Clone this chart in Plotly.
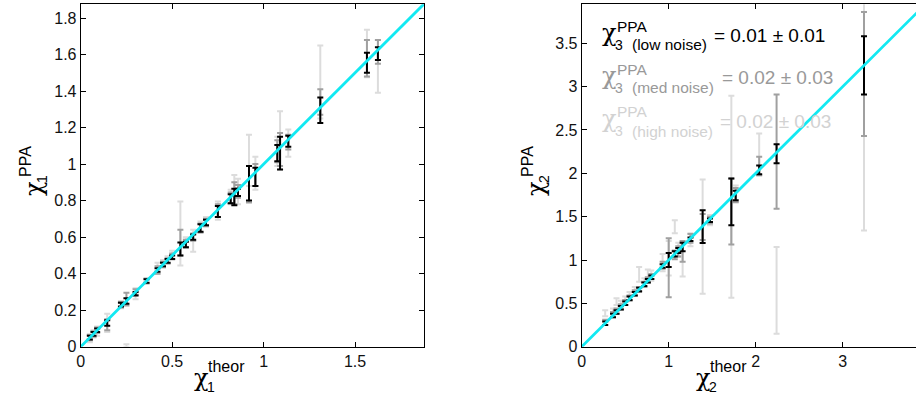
import plotly.graph_objects as go

# ---------------- data ----------------
# Left panel: chi_1 (theoretical) vs chi_1 (PPA estimate)
chi1_theor = [0.05, 0.07, 0.09, 0.145, 0.22, 0.25, 0.30, 0.36, 0.42, 0.45,
              0.475, 0.50, 0.545, 0.575, 0.615, 0.655, 0.685, 0.75, 0.82, 0.84,
              0.86, 0.92, 0.955, 1.075, 1.09, 1.135, 1.31, 1.565, 1.625]
chi1_low = [0.05, 0.07, 0.09, 0.13, 0.23, 0.25, 0.29, 0.36, 0.42, 0.45,
            0.47, 0.49, 0.535, 0.56, 0.60, 0.65, 0.68, 0.74, 0.81, 0.82,
            0.845, 0.895, 0.93, 1.06, 1.06, 1.125, 1.295, 1.555, 1.605]
chi1_low_err = [0.01, 0.01, 0.01, 0.015, 0.01, 0.015, 0.01, 0.01, 0.01, 0.01,
                0.01, 0.01, 0.035, 0.015, 0.015, 0.02, 0.015, 0.03, 0.025, 0.045,
                0.02, 0.095, 0.05, 0.045, 0.09, 0.03, 0.07, 0.055, 0.035]
chi1_med = [0.05, 0.07, 0.09, 0.12, 0.23, 0.26, 0.30, 0.36, 0.42, 0.45,
            0.47, 0.495, 0.57, 0.565, 0.60, 0.65, 0.68, 0.745, 0.815, 0.84,
            0.85, 0.89, 0.94, 1.07, 1.08, 1.12, 1.34, 1.58, 1.615]
chi1_med_err = [0.015, 0.015, 0.015, 0.03, 0.015, 0.035, 0.015, 0.012, 0.02, 0.015,
                0.015, 0.015, 0.07, 0.02, 0.02, 0.025, 0.02, 0.035, 0.03, 0.06,
                0.035, 0.10, 0.06, 0.06, 0.09, 0.04, 0.07, 0.10, 0.065]
chi1_high = [0.045, 0.07, 0.085, 0.13, 0.23, 0.005, 0.29, 0.36, 0.43, 0.455,
             0.475, 0.50, 0.62, 0.57, 0.58, 0.655, 0.685, 0.745, 0.82, 0.86,
             0.85, 1.02, 0.95, 1.07, 1.13, 1.115, 1.45, 1.605, 1.535]
chi1_high_err = [0.02, 0.02, 0.025, 0.05, 0.02, 0.008, 0.03, 0.015, 0.03, 0.02,
                 0.02, 0.025, 0.175, 0.03, 0.06, 0.03, 0.025, 0.05, 0.04, 0.08,
                 0.07, 0.14, 0.09, 0.08, 0.16, 0.075, 0.20, 0.13, 0.145]

# Right panel: chi_2 (theoretical) vs chi_2 (PPA estimate)
chi2_theor = [0.27, 0.36, 0.40, 0.45, 0.50, 0.55, 0.61, 0.66, 0.72, 0.76,
              0.80, 0.93, 1.00, 1.07, 1.11, 1.16, 1.25, 1.39, 1.475, 1.72,
              1.77, 2.04, 2.24, 3.245]
chi2_low = [0.27, 0.36, 0.40, 0.45, 0.50, 0.56, 0.61, 0.66, 0.72, 0.76,
            0.80, 0.93, 1.00, 1.07, 1.11, 1.15, 1.24, 1.385, 1.46, 1.67,
            1.745, 2.04, 2.225, 3.245]
chi2_low_err = [0.02, 0.02, 0.02, 0.02, 0.02, 0.02, 0.02, 0.02, 0.02, 0.02,
                0.02, 0.02, 0.08, 0.03, 0.03, 0.05, 0.02, 0.19, 0.02, 0.27,
                0.055, 0.05, 0.11, 0.335]
chi2_med = [0.28, 0.37, 0.41, 0.46, 0.51, 0.56, 0.62, 0.66, 0.72, 0.77,
            0.81, 0.94, 0.91, 1.06, 1.10, 1.10, 1.25, 1.38, 1.46, 1.56,
            1.75, 2.085, 2.25, 3.145]
chi2_med_err = [0.03, 0.03, 0.03, 0.03, 0.03, 0.03, 0.03, 0.03, 0.03, 0.03,
                0.03, 0.04, 0.34, 0.05, 0.06, 0.12, 0.05, 0.15, 0.04, 0.38,
                0.08, 0.105, 0.66, 0.715]
chi2_high = [0.385, 0.40, 0.52, 0.49, 0.53, 0.58, 0.64, 0.835, 0.74, 0.83,
             0.82, 0.97, 1.02, 1.385, 1.12, 1.00, 1.235, 1.27, 1.46, 1.73,
             1.76, 2.215, 0.65, 2.82]
chi2_high_err = [0.035, 0.04, 0.04, 0.04, 0.05, 0.05, 0.05, 0.085, 0.05, 0.06,
                 0.06, 0.10, 0.20, 0.075, 0.08, 0.19, 0.075, 0.66, 0.06, 1.165,
                 0.10, 0.245, 0.50, 1.48]

# identity reference lines (y = x)
identity1 = [0, 1.9]
identity2 = [0, 4.0]

# tick values
xticks1 = [0, 0.5, 1, 1.5]
yticks1 = [0, 0.2, 0.4, 0.6, 0.8, 1, 1.2, 1.4, 1.6, 1.8]
xticks2 = [0, 1, 2, 3]
yticks2 = [0, 0.5, 1, 1.5, 2, 2.5, 3, 3.5]

# annotation texts
noise_labels = ["(low noise)", "(med noise)", "(high noise)"]
chi3_values = ["= 0.01 ± 0.01", "= 0.02 ± 0.03", "= 0.02 ± 0.03"]

# ---------------- style ----------------
W, H = 916, 395
FONT = "Liberation Sans, Arial, Helvetica, sans-serif"
GREEK = "DejaVu Serif, Liberation Serif, serif"
BLACK = "#000000"
MED_BAR = "#a0a0a0"
LIGHT_BAR = "#dcdcdc"
TEXT_COLS = ["#000000", "#999999", "#d2d2d2"]
CYAN = "#12e9f2"


def px(x):
    return x / W


def py(y):
    return 1 - y / H


fig = go.Figure()


def add_err(xs, ys, es, color, xa, ya, thick=2.0):
    fig.add_trace(go.Scatter(
        x=xs, y=ys, mode="markers",
        marker=dict(size=1, color="rgba(0,0,0,0)"),
        error_y=dict(type="data", array=es, visible=True, color=color,
                     thickness=thick, width=3),
        xaxis=xa, yaxis=ya, showlegend=False, hoverinfo="skip"))


add_err(chi1_theor, chi1_high, chi1_high_err, LIGHT_BAR, "x", "y")
add_err(chi1_theor, chi1_med, chi1_med_err, MED_BAR, "x", "y")
add_err(chi1_theor, chi1_low, chi1_low_err, BLACK, "x", "y")
fig.add_trace(go.Scatter(x=identity1, y=identity1, mode="lines",
                         line=dict(color=CYAN, width=2.8), xaxis="x", yaxis="y",
                         showlegend=False, hoverinfo="skip"))

add_err(chi2_theor, chi2_high, chi2_high_err, LIGHT_BAR, "x2", "y2")
add_err(chi2_theor, chi2_med, chi2_med_err, MED_BAR, "x2", "y2")
add_err(chi2_theor, chi2_low, chi2_low_err, BLACK, "x2", "y2")
fig.add_trace(go.Scatter(x=identity2, y=identity2, mode="lines",
                         line=dict(color=CYAN, width=2.8), xaxis="x2", yaxis="y2",
                         showlegend=False, hoverinfo="skip"))

ydom = [py(346.7), py(4.3)]
axis_common = dict(showgrid=False, zeroline=False, showline=True, linecolor="black",
                   linewidth=1, ticks="inside", ticklen=5, tickwidth=1, automargin=False,
                   tickcolor="black", tickfont=dict(family=FONT, size=16, color="#111"))

fig.update_layout(
    width=W, height=H, autosize=False, margin=dict(l=0, r=0, t=0, b=0, pad=0, autoexpand=False),
    paper_bgcolor="white", plot_bgcolor="white", showlegend=False,
    font=dict(family=FONT),
    xaxis=dict(domain=[px(80.7), px(424)], range=[0, 1.877], tickvals=xticks1,
               anchor="y", mirror="ticks", **axis_common),
    yaxis=dict(domain=ydom, range=[0, 1.875], tickvals=yticks1,
               anchor="x", mirror="ticks", **axis_common),
    xaxis2=dict(domain=[px(581.7), 1.0], range=[0, (916 - 581.7) / 87.0], tickvals=xticks2,
                anchor="y2", mirror="ticks", **axis_common),
    yaxis2=dict(domain=ydom, range=[0, 3.95], tickvals=yticks2,
                anchor="x2", mirror=False, **axis_common),
)

ann = []


def txt(x, y, s, size, color="black", xanchor="center", angle=0, family=FONT):
    ann.append(dict(x=px(x), y=py(y), xref="paper", yref="paper", text=s,
                    showarrow=False, xanchor=xanchor, yanchor="middle",
                    textangle=angle, font=dict(family=family, size=size, color=color)))


# x-axis titles
for cx, sub in [(201, "1"), (703, "2")]:
    txt(cx, 378, "χ", 24, family=GREEK)
    txt(cx + 25, 366, "theor", 16)
    txt(cx + 10, 387, sub, 14)

# y-axis titles (rotated)
for cx, sub in [(34, "1"), (536, "2")]:
    txt(cx, 189, "χ", 24, angle=-90, family=GREEK)
    txt(cx - 9, 162, "PPA", 16, angle=-90)
    txt(cx + 8, 179, sub, 14, angle=-90)

# chi_3 annotations
row_eq_x = [712, 720, 718]
for i in range(3):
    dy = i * 43
    c = TEXT_COLS[i]
    txt(609, 33 + dy, "χ", 24, c, family=GREEK)
    txt(615, 26 + dy, "PPA", 15.5, c, xanchor="left")
    txt(619, 45 + dy, "3", 14, c)
    txt(630, 45 + dy, noise_labels[i], 15.5, c, xanchor="left")
    txt(row_eq_x[i], 35 + dy, chi3_values[i], 19, c, xanchor="left")

fig.update_layout(annotations=ann)

POST = """
document.documentElement.style.margin='0';
document.documentElement.style.overflow='hidden';
document.body.style.margin='0';
document.body.style.overflow='hidden';
var gd=document.getElementById('{plot_id}');
gd.style.position='fixed';
gd.style.left='0px';
gd.style.top='0px';
"""

fig.write_html("out.html", config={"displayModeBar": False, "responsive": False},
               post_script=POST)
